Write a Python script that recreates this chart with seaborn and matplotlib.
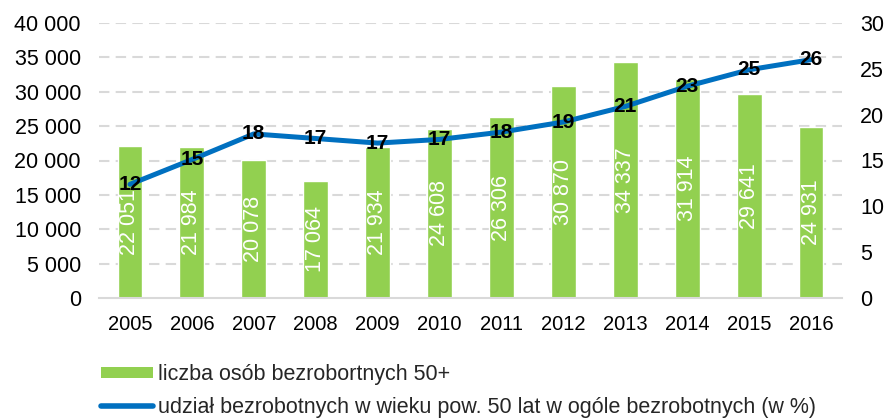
import numpy as np
import pandas as pd
import matplotlib
matplotlib.use("Agg")
import matplotlib.pyplot as plt
import seaborn as sns
from matplotlib.patches import Patch
from matplotlib.lines import Line2D

years = ["2005", "2006", "2007", "2008", "2009", "2010", "2011", "2012", "2013", "2014", "2015", "2016"]
counts = [22051, 21984, 20078, 17064, 21934, 24608, 26306, 30870, 34337, 31914, 29641, 24931]
share = [12.4, 15.1, 17.9, 17.4, 16.9, 17.3, 18.1, 19.2, 20.9, 23.1, 24.9, 26.0]
share_labels = [12, 15, 18, 17, 17, 17, 18, 19, 21, 23, 25, 26]
bar_label = "liczba osób bezrobortnych 50+"
line_label = "udział bezrobotnych w wieku pow. 50 lat w ogóle bezrobotnych (w %)"

BAR = "#92D050"
LINE = "#0070C0"

sns.set_theme(style="white")
plt.rcParams["font.family"] = ["Liberation Sans", "DejaVu Sans"]

fig = plt.figure(figsize=(8.88, 4.2), dpi=100)
ax = fig.add_axes([99/888, 1-298/420, (842-99)/888, (298-23)/420])

df = pd.DataFrame({"year": years, "count": counts, "share": share})
sns.barplot(data=df, x="year", y="count", color=BAR, saturation=1, width=0.4, ax=ax, zorder=2)
ax.set_ylim(0, 40000)
ax.set_xlim(-0.5, len(years)-0.5)
ax.set_yticks(np.arange(0, 40001, 5000))
ax.set_yticklabels([f"{v:,}".replace(",", " ") for v in range(0, 40001, 5000)], fontsize=15.5, color="#000000")
ax.tick_params(axis="x", labelsize=14.5, colors="#000000", pad=12, length=0)
ax.tick_params(axis="y", length=0, pad=13)
ax.set_xlabel("")
ax.set_ylabel("")
for yv in range(5000, 40001, 5000):
    ax.axhline(yv, color="#D9D9D9", lw=1.5, ls=(0, (5, 3)), zorder=0)
for s in ["top", "left", "right"]:
    ax.spines[s].set_visible(False)
ax.spines["bottom"].set_color("#D9D9D9")
ax.spines["bottom"].set_linewidth(1.5)

for i, p in enumerate(ax.patches):
    h = p.get_height()
    ax.text(p.get_x() + p.get_width()/2, h/2, f"{counts[i]:,}".replace(",", " "),
            rotation=90, ha="center", va="center", color="white", fontsize=15.5, zorder=3)

ax2 = ax.twinx()
sns.lineplot(x=np.arange(len(years)), y=share, ax=ax2, color=LINE, lw=3.6, zorder=4, solid_capstyle="round")
ax2.set_ylim(0, 30)
ax2.set_yticks(np.arange(0, 31, 5))
ax2.set_yticklabels([str(v) for v in range(0, 31, 5)], fontsize=15.5, color="#000000")
ax2.tick_params(axis="y", length=0, pad=13)
ax2.set_ylabel("")
for s in ["top", "left", "right", "bottom"]:
    ax2.spines[s].set_visible(False)
for i, v in enumerate(share):
    ax2.text(i, v, str(share_labels[i]), ha="center", va="center", fontsize=15,
             fontweight="bold", color="black", zorder=5)

handles = [Patch(facecolor=BAR, edgecolor="none"), Line2D([0], [0], color=LINE, lw=4, solid_capstyle="round")]
fig.legend(handles, [bar_label, line_label], loc="upper left", bbox_to_anchor=(101/888, 1-364/420),
           frameon=False, fontsize=15.5, handlelength=2.4, handleheight=0.45, handletextpad=0.25,
           labelspacing=0.55, borderpad=0, borderaxespad=0)

fig.savefig("out.png", dpi=100)
